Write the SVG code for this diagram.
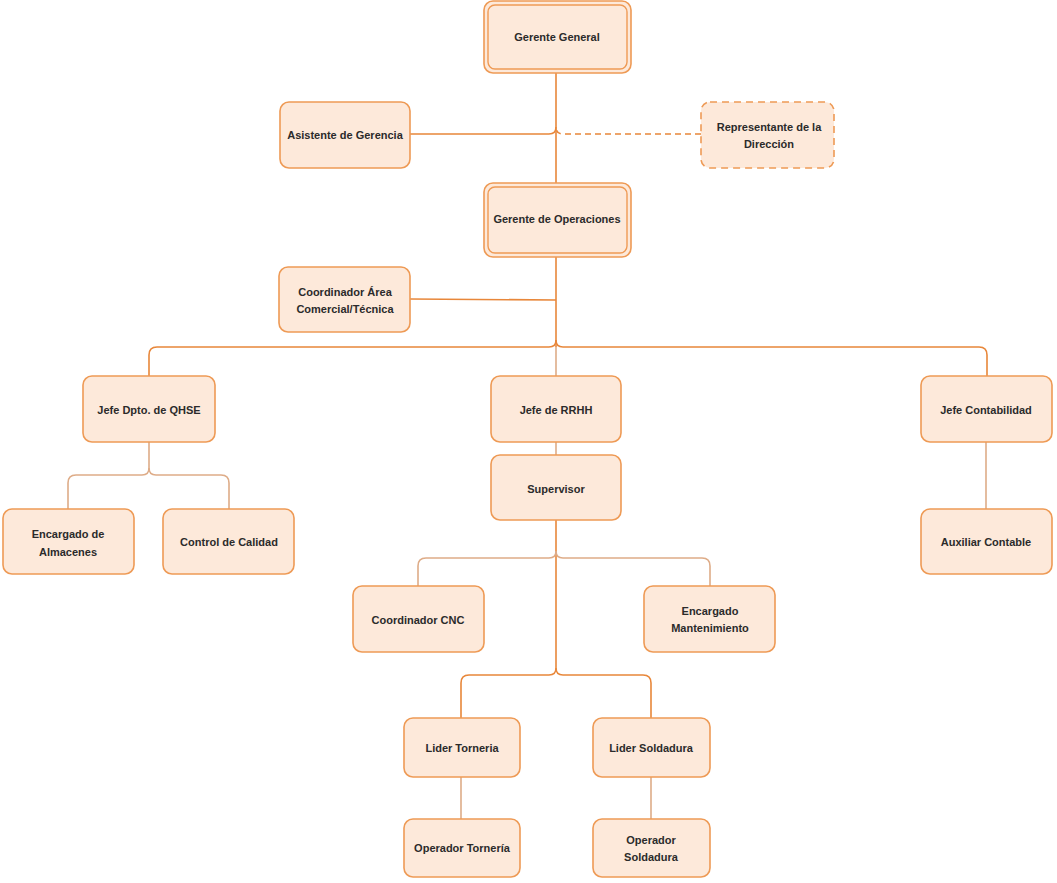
<svg xmlns="http://www.w3.org/2000/svg" width="1057" height="883" viewBox="0 0 1057 883">
<style>
.box{fill:#fde9da;stroke:#ee9a55;stroke-width:1.6}
.dbl{fill:none;stroke:#ee9a55;stroke-width:1.4}
.dash{fill:#fde9da;stroke:#ee9a55;stroke-width:1.6;stroke-dasharray:7,5}
.t{font-family:"Liberation Sans",Arial,sans-serif;font-size:11px;font-weight:bold;fill:#2b2b2b;text-anchor:middle;dominant-baseline:central}
.c{fill:none;stroke:#e8873a;stroke-width:1.6}
.l{fill:none;stroke:#deac88;stroke-width:1.6}
.cd{fill:none;stroke:#e8873a;stroke-width:1.6;stroke-dasharray:6,4}
</style>
<rect width="1057" height="883" fill="#ffffff"/>
<g id="connectors">
<path class="c" d="M556,73 V183"/>
<path class="c" d="M410,134 H549 Q556,134 556,127"/>
<path class="cd" d="M701,134 H563 Q556,134 556,127"/>
<path class="c" d="M410,299 L556,300"/>
<path class="c" d="M556,257 V347"/>
<path class="c" d="M556,340 Q556,347 549,347 H157 Q149,347 149,355 V376"/>
<path class="c" d="M556,340 Q556,347 563,347 H979 Q987,347 987,355 V376"/>
<path class="l" d="M556,347 V376"/>
<path class="l" d="M556,442 V455"/>
<path class="l" d="M149,442 V468 Q149,475 142,475 H76 Q68,475 68,483 V509"/>
<path class="l" d="M149,468 Q149,475 156,475 H221 Q229,475 229,483 V509"/>
<path class="l" d="M986,442 V509"/>
<path class="c" d="M556,520 V668"/>
<path class="l" d="M556,551 Q556,558 549,558 H426 Q418,558 418,566 V586"/>
<path class="l" d="M556,551 Q556,558 563,558 H702 Q710,558 710,566 V586"/>
<path class="c" d="M556,668 Q556,675 549,675 H469 Q461,675 461,683 V718"/>
<path class="c" d="M556,668 Q556,675 563,675 H643 Q651,675 651,683 V718"/>
<path class="l" d="M461,777 V819"/>
<path class="l" d="M651,777 V819"/>
</g>
<g id="gerente-general">
<rect class="box" x="484" y="1" width="147" height="72" rx="9" stroke-width="2.2"/>
<rect class="dbl" x="488" y="5" width="139" height="64" rx="7"/>
<text class="t" x="557" y="37">Gerente General</text>
</g>
<g id="asistente">
<rect class="box" x="280" y="102" width="130" height="66" rx="9"/>
<text class="t" x="345" y="135">Asistente de Gerencia</text>
</g>
<g id="representante">
<rect class="dash" x="701" y="102" width="133" height="66" rx="9"/>
<text class="t" x="769" y="127">Representante de la</text>
<text class="t" x="769" y="144">Dirección</text>
</g>
<g id="gerente-operaciones">
<rect class="box" x="484" y="183" width="147" height="74" rx="9" stroke-width="2.2"/>
<rect class="dbl" x="488" y="187" width="139" height="66" rx="7"/>
<text class="t" x="557" y="219">Gerente de Operaciones</text>
</g>
<g id="coordinador-area">
<rect class="box" x="279" y="267" width="131" height="65" rx="9"/>
<text class="t" x="345" y="292">Coordinador Área</text>
<text class="t" x="345" y="309">Comercial/Técnica</text>
</g>
<g id="jefe-qhse">
<rect class="box" x="83" y="376" width="132" height="66" rx="9"/>
<text class="t" x="149" y="410">Jefe Dpto. de QHSE</text>
</g>
<g id="jefe-rrhh">
<rect class="box" x="491" y="376" width="130" height="66" rx="9"/>
<text class="t" x="556" y="410">Jefe de RRHH</text>
</g>
<g id="jefe-contabilidad">
<rect class="box" x="921" y="376" width="131" height="66" rx="9"/>
<text class="t" x="986" y="410">Jefe Contabilidad</text>
</g>
<g id="supervisor">
<rect class="box" x="491" y="455" width="130" height="65" rx="9"/>
<text class="t" x="556" y="489">Supervisor</text>
</g>
<g id="encargado-almacenes">
<rect class="box" x="3" y="509" width="131" height="65" rx="9"/>
<text class="t" x="68" y="534">Encargado de</text>
<text class="t" x="68" y="552">Almacenes</text>
</g>
<g id="control-calidad">
<rect class="box" x="163" y="509" width="131" height="65" rx="9"/>
<text class="t" x="229" y="542">Control de Calidad</text>
</g>
<g id="auxiliar-contable">
<rect class="box" x="921" y="509" width="131" height="65" rx="9"/>
<text class="t" x="986" y="542">Auxiliar Contable</text>
</g>
<g id="coordinador-cnc">
<rect class="box" x="353" y="586" width="131" height="66" rx="9"/>
<text class="t" x="418" y="620">Coordinador CNC</text>
</g>
<g id="encargado-mantenimiento">
<rect class="box" x="644" y="586" width="131" height="66" rx="9"/>
<text class="t" x="710" y="611">Encargado</text>
<text class="t" x="710" y="628">Mantenimiento</text>
</g>
<g id="lider-torneria">
<rect class="box" x="404" y="718" width="116" height="59" rx="9"/>
<text class="t" x="462" y="748">Lider Torneria</text>
</g>
<g id="lider-soldadura">
<rect class="box" x="593" y="718" width="117" height="59" rx="9"/>
<text class="t" x="651" y="748">Lider Soldadura</text>
</g>
<g id="operador-torneria">
<rect class="box" x="404" y="819" width="116" height="58" rx="9"/>
<text class="t" x="462" y="848">Operador Tornería</text>
</g>
<g id="operador-soldadura">
<rect class="box" x="593" y="819" width="117" height="58" rx="9"/>
<text class="t" x="651" y="840">Operador</text>
<text class="t" x="651" y="857">Soldadura</text>
</g>
</svg>
